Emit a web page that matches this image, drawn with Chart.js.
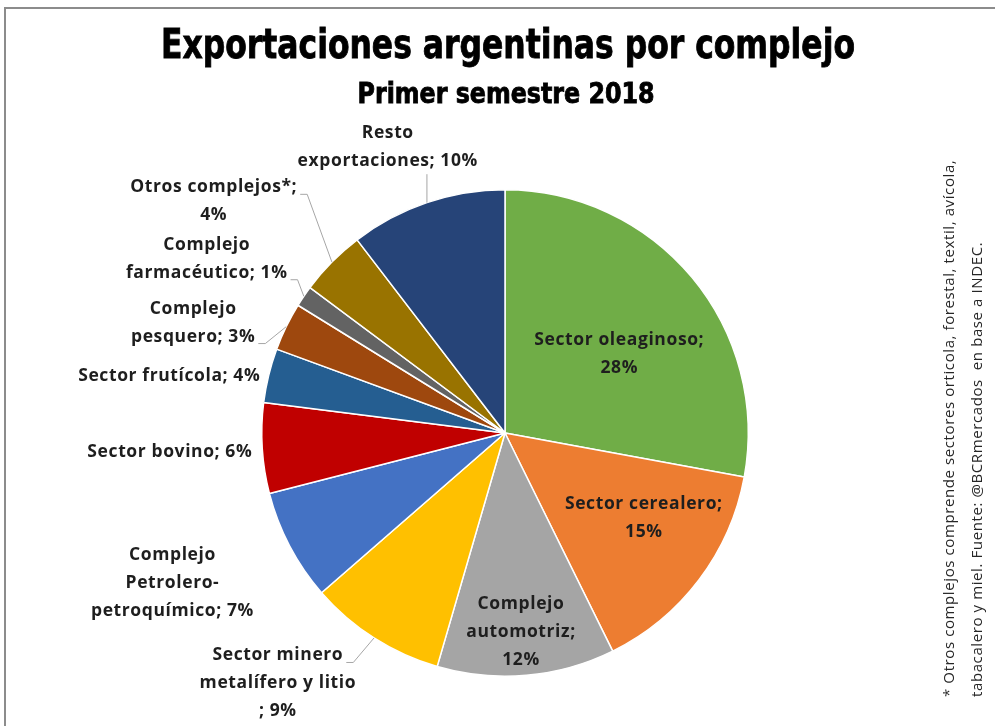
<!doctype html>
<html lang="es">
  <head>
    <meta charset="UTF-8" />
    <title>Exportaciones argentinas por complejo</title>
    <script src="https://cdn.jsdelivr.net/npm/chart.js"></script>
    <style>
      html,
      body {
        margin: 0;
        padding: 0;
        background: #fff;
      }
      #wrap {
        position: relative;
        width: 995px;
        height: 726px;
        overflow: hidden;
      }
      #frame {
        position: absolute;
        left: 4px;
        top: 7px;
        width: 1000px;
        height: 740px;
        border-left: 2px solid #8c8c8c;
        border-top: 2px solid #8c8c8c;
      }
      #chart {
        position: absolute;
        left: 0;
        top: 0;
      }
    </style>
  </head>
  <body>
    <div id="wrap">
      <div id="frame"></div>
      <canvas id="chart" width="995" height="726"></canvas>
    </div>
    <script>
      // Data (share of exports, %), clockwise from 12 o'clock
      const categories = [
        "Sector oleaginoso",
        "Sector cerealero",
        "Complejo automotriz",
        "Sector minero metalífero y litio",
        "Complejo Petrolero-petroquímico",
        "Sector bovino",
        "Sector frutícola",
        "Complejo pesquero",
        "Complejo farmacéutico",
        "Otros complejos*",
        "Resto exportaciones",
      ];
      const shares = [27.9, 14.8, 11.8, 9.1, 7.4, 6.0, 3.6, 3.2, 1.4, 4.4, 10.4];

      // Label text as wrapped in the original (%p = rounded share)
      const labelLines = [
        ["Sector oleaginoso;", "%p"],
        ["Sector cerealero;", "%p"],
        ["Complejo", "automotriz;", "%p"],
        ["Sector minero", "metalífero y litio", "; %p"],
        ["Complejo", "Petrolero-", "petroquímico; %p"],
        ["Sector bovino; %p"],
        ["Sector frutícola; %p"],
        ["Complejo", "pesquero; %p"],
        ["Complejo", "farmacéutico; %p"],
        ["Otros complejos*;", "%p"],
        ["Resto", "exportaciones; %p"],
      ];

      const titleText = "Exportaciones argentinas por complejo";
      const subtitleText = "Primer semestre 2018";
      const noteLines = [
        "* Otros complejos comprende sectores orticola, forestal, textil, avícola,",
        "tabacalero y miel. Fuente: @BCRmercados  en base a INDEC.",
      ];

      // Styling / layout
      const colors = [
        "#70AD47", "#ED7D31", "#A5A5A5", "#FFC000", "#4472C4", "#C00000",
        "#255E91", "#9E480E", "#636363", "#997300", "#264478",
      ];
      // label block centre: [angle deg clockwise from top, distance / radius]
      const labelPlace = [
        [55.5, 0.57], [121.6, 0.67], [175.4, 0.82], [222.2, 1.39],
        [245.7, 1.5], [266.8, 1.38], [279.6, 1.4], [289.5, 1.36],
        [300.3, 1.42], [308.5, 1.53], [337.7, 1.27],
      ];
      // leader lines: which text line they attach to (right side) or bottom
      const leaders = [
        null, null, null, { line: 0 }, null, null, null,
        { line: 1 }, { line: 1 }, { line: 0 }, { bottom: true },
      ];

      const labelFont = "bold 17.5px 'Open Sans', sans-serif";
      const lineH = 28;
      const condensed = "'Liberation Sans Narrow', 'DejaVu Sans Condensed', sans-serif";

      function fitText(ctx, text, font, cx, baseY, targetW) {
        ctx.font = font;
        const w = ctx.measureText(text).width;
        ctx.save();
        ctx.translate(cx, baseY);
        ctx.scale(targetW / w, 1);
        ctx.textAlign = "center";
        ctx.textBaseline = "alphabetic";
        ctx.lineWidth = 0.8;
        ctx.strokeStyle = "#000";
        ctx.fillText(text, 0, 0);
        ctx.strokeText(text, 0, 0);
        ctx.restore();
      }

      const textPlugin = {
        id: "texts",
        afterDraw(chart) {
          const ctx = chart.ctx;
          const meta = chart.getDatasetMeta(0);
          ctx.save();
          ctx.fillStyle = "#000";
          fitText(ctx, titleText, "bold 41px " + condensed, 508, 58, 694);
          fitText(ctx, subtitleText, "bold 28px " + condensed, 506, 103, 297);

          // slice labels
          ctx.font = labelFont;
          ctx.letterSpacing = "0.6px";
          ctx.fillStyle = "#1e1e1e";
          ctx.textAlign = "center";
          ctx.textBaseline = "middle";
          meta.data.forEach((arc, i) => {
            const r = arc.outerRadius;
            const a = (labelPlace[i][0] * Math.PI) / 180;
            const bx = arc.x + labelPlace[i][1] * r * Math.sin(a);
            const by = arc.y - labelPlace[i][1] * r * Math.cos(a);
            const pct = Math.round(shares[i]) + "%";
            const lines = labelLines[i].map((s) => s.replace("%p", pct));
            const n = lines.length;
            lines.forEach((s, k) => {
              ctx.fillText(s, bx, by + (k - (n - 1) / 2) * lineH);
            });

            const ld = leaders[i];
            if (!ld) return;
            const mid = (arc.startAngle + arc.endAngle) / 2;
            const px = arc.x + r * Math.cos(mid);
            const py = arc.y + r * Math.sin(mid);
            ctx.save();
            ctx.strokeStyle = "#a6a6a6";
            ctx.lineWidth = 1;
            ctx.beginPath();
            if (ld.bottom) {
              ctx.moveTo(px, py);
              ctx.lineTo(px, by + ((n - 1) / 2) * lineH + 13);
            } else {
              const w = ctx.measureText(lines[ld.line]).width;
              const ax = bx + w / 2 + 3;
              const ay = by + (ld.line - (n - 1) / 2) * lineH + 7;
              ctx.moveTo(px, py);
              ctx.lineTo(ax + 7, ay);
              ctx.lineTo(ax, ay);
            }
            ctx.stroke();
            ctx.restore();
          });

          // vertical note on the right
          ctx.save();
          ctx.translate(954, 697);
          ctx.rotate(-Math.PI / 2);
          ctx.font = "15px 'Open Sans', sans-serif";
          ctx.letterSpacing = "0.6px";
          ctx.fillStyle = "#262626";
          ctx.textAlign = "left";
          ctx.textBaseline = "alphabetic";
          noteLines.forEach((s, k) => ctx.fillText(s, 0, k * 28));
          ctx.restore();
          ctx.restore();
        },
      };

      new Chart(document.getElementById("chart"), {
        type: "pie",
        data: {
          labels: categories,
          datasets: [
            {
              data: shares,
              backgroundColor: colors,
              borderColor: "#ffffff",
              borderWidth: 1.5,
            },
          ],
        },
        options: {
          responsive: false,
          animation: false,
          layout: {
            padding: { top: 189, bottom: 49, left: 261, right: 246 },
          },
          plugins: {
            legend: { display: false },
            tooltip: { enabled: false },
          },
        },
        plugins: [textPlugin],
      });
    </script>
  </body>
</html>
